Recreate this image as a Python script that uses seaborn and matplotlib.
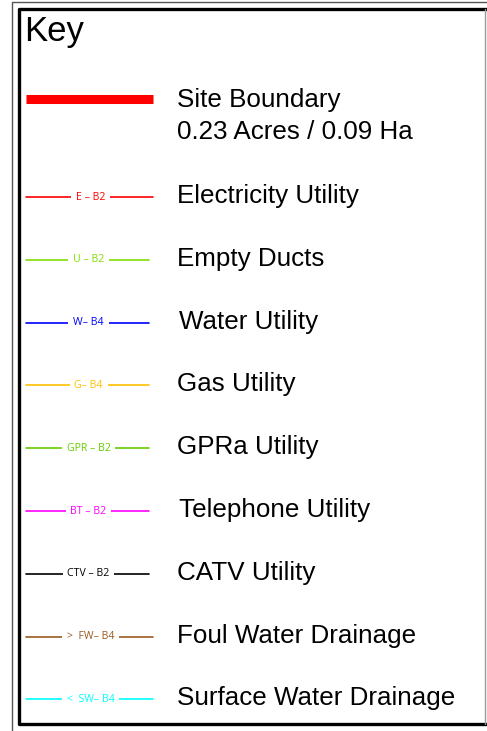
import pandas as pd
import matplotlib.pyplot as plt
import seaborn as sns
from matplotlib.patches import Rectangle

# --- data ---
items = ["Electricity Utility", "Empty Ducts", "Water Utility", "Gas Utility", "GPRa Utility",
         "Telephone Utility", "CATV Utility", "Foul Water Drainage", "Surface Water Drainage"]
codes = ["E \u2013 B2", "U \u2013 B2", "W\u2013 B4", "G\u2013 B4", "GPR \u2013 B2",
         "BT \u2013 B2", "CTV \u2013 B2", ">  FW\u2013 B4", "<  SW\u2013 B4"]
colors = ["#FF0000", "#7FE000", "#0000FF", "#FFC000", "#66CC00",
          "#FF00FF", "#000000", "#9A5B1F", "#00FFFF"]
site_lines = ["Site Boundary", "0.23 Acres / 0.09 Ha"]

# --- layout (pixel coords) ---
W, H = 487, 731
row_y0, row_step = 197, 62.8
line_x0 = 26
line_end = [153, 149, 149, 149, 149, 149, 149, 153, 153]
label_x = 177

sns.set_theme(style="white")
plt.rcParams['font.family'] = ['Liberation Sans', 'DejaVu Sans']

fig = plt.figure(figsize=(W / 100, H / 100), dpi=100)
ax = fig.add_axes([0, 0, 1, 1])

# frames
ax.add_patch(Rectangle((12, 2), W + 20, H + 20, fill=False, edgecolor="#555555", lw=1))
ax.plot([W + 5, 19, 19, W + 5], [9, 9, 724, 724], color="black", lw=2.4, solid_capstyle="butt")
ax.plot([485, 485], [9, 724], color="#999999", lw=1)

ax.text(24, 32, "Key", fontsize=25, va="center", ha="left", color="black")

# site boundary
ax.plot([line_x0, 153], [99, 99], color="#FF0000", lw=6.5, solid_capstyle="butt")
for k, txt in enumerate(site_lines):
    ax.text(label_x, 100 + 32 * k, txt, fontsize=18.7, va="center", ha="left", color="black")

# utility lines
rows = []
for i, (name, x1) in enumerate(zip(items, line_end)):
    y = row_y0 + row_step * i
    rows.append({"item": name, "x": line_x0, "y": y})
    rows.append({"item": name, "x": x1, "y": y})
df = pd.DataFrame(rows)
sns.lineplot(data=df, x="x", y="y", hue="item", palette=dict(zip(items, colors)),
             units="item", estimator=None, sort=False, legend=False, lw=1.2, ax=ax)
ax.set_xlim(0, W)
ax.set_ylim(H, 0)
ax.axis("off")

for i, (name, code, c, x1) in enumerate(zip(items, codes, colors, line_end)):
    y = row_y0 + row_step * i
    ax.text((line_x0 + x1) / 2 + 1, y, code, fontsize=7.6, color=c, ha="center", va="center",
            family=["Open Sans", "DejaVu Sans"],
            bbox=dict(boxstyle="square,pad=0.45", fc="white", ec="none"))
    lx = label_x + (2 if name in ("Water Utility", "Telephone Utility") else 0)
    ax.text(lx, y - 1, name, fontsize=18.7, va="center", ha="left", color="black")

fig.savefig("out.png", dpi=100)
